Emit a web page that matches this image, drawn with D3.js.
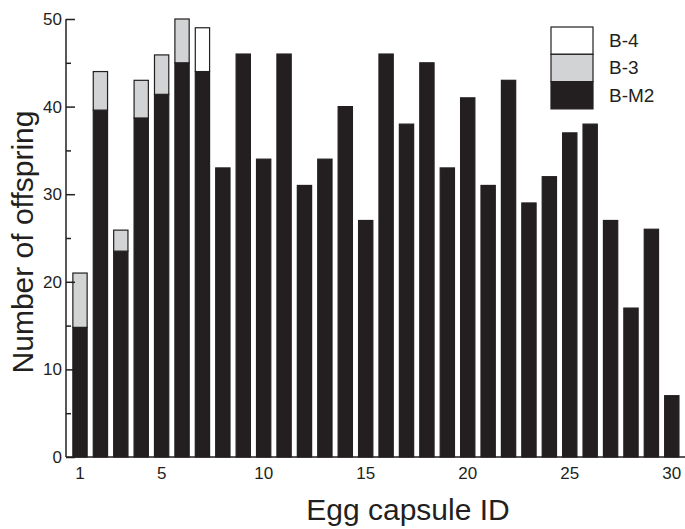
<!DOCTYPE html>
<html>
<head>
<meta charset="utf-8">
<script src="https://cdn.jsdelivr.net/npm/d3@7"></script>
<style>
  html, body { margin: 0; padding: 0; background: #fff; }
  svg text { font-family: "Liberation Sans", Arial, Helvetica, sans-serif; fill: #231f20; }
</style>
</head>
<body>
<svg id="chart" width="685" height="529"></svg>
<script>
// ---- data ----
const capsules = d3.range(1, 31);
const seriesNames = ["B-M2", "B-3", "B-4"];
const bM2 = [14.8, 39.6, 23.5, 38.7, 41.4, 45, 44, 33, 46, 34, 46, 31, 34, 40, 27, 46, 38, 45, 33, 41, 31, 43, 29, 32, 37, 38, 27, 17, 26, 7];
const b3  = [6.2, 4.4, 2.4, 4.3, 4.5, 5, 0, 0, 0, 0, 0, 0, 0, 0, 0, 0, 0, 0, 0, 0, 0, 0, 0, 0, 0, 0, 0, 0, 0, 0];
const b4  = [0, 0, 0, 0, 0, 0, 5, 0, 0, 0, 0, 0, 0, 0, 0, 0, 0, 0, 0, 0, 0, 0, 0, 0, 0, 0, 0, 0, 0, 0];
const xTickLabels = [1, 5, 10, 15, 20, 25, 30];
const yTickLabels = [0, 10, 20, 30, 40, 50];
const yMinorTicks = [5, 15, 25, 35, 45];

const colors = { "B-M2": "#231f20", "B-3": "#d1d3d4", "B-4": "#ffffff" };
const dark = "#231f20";

const svg = d3.select("#chart");
const axisX0 = 66, axisY0 = 457, plotTop = 19;

const x = d3.scaleBand().domain(capsules).range([69.8, 682]).paddingInner(0.3).paddingOuter(0.15);
const y = d3.scaleLinear().domain([0, 50]).range([axisY0, plotTop]);

const rows = capsules.map((c, i) => ({ id: c, "B-M2": bM2[i], "B-3": b3[i], "B-4": b4[i] }));
const stacked = d3.stack().keys(seriesNames)(rows);

// bars
svg.append("g").selectAll("g").data(stacked).join("g")
  .attr("fill", d => colors[d.key])
  .selectAll("rect").data(d => d.filter(p => p[1] - p[0] > 0)).join("rect")
  .attr("x", d => x(d.data.id))
  .attr("width", x.bandwidth())
  .attr("y", d => y(d[1]))
  .attr("height", d => y(d[0]) - y(d[1]))
  .attr("stroke", dark)
  .attr("stroke-width", 1.2);

// y axis
const yAxis = d3.axisLeft(y).tickValues(yTickLabels).tickSize(-9).tickPadding(14).tickFormat(d3.format("d"));
const gy = svg.append("g").attr("transform", `translate(${axisX0},0)`).call(yAxis);
gy.select(".domain").attr("stroke", dark).attr("stroke-width", 1.5).attr("d", `M0,${axisY0}V${plotTop}`);
gy.selectAll(".tick line").attr("stroke", dark).attr("stroke-width", 1.5);
gy.selectAll(".tick text").attr("font-size", 17).attr("font-family", "Liberation Sans, Arial, sans-serif").attr("fill", dark).attr("x", -4);
const yMinor = d3.axisLeft(y).tickValues(yMinorTicks).tickSize(-5).tickFormat("");
const gym = svg.append("g").attr("transform", `translate(${axisX0},0)`).call(yMinor);
gym.select(".domain").remove();
gym.selectAll(".tick line").attr("stroke", dark).attr("stroke-width", 1.5);

// x axis
const xAxis = d3.axisBottom(x).tickValues(xTickLabels).tickSize(0).tickPadding(10);
const gx = svg.append("g").attr("transform", `translate(0,${axisY0})`).call(xAxis);
gx.select(".domain").attr("stroke", dark).attr("stroke-width", 1.5).attr("d", `M${axisX0},0H685`);
gx.selectAll(".tick text").attr("font-size", 17).attr("font-family", "Liberation Sans, Arial, sans-serif").attr("fill", dark);

// axis titles
svg.append("text").attr("x", 408).attr("y", 520).attr("text-anchor", "middle")
  .attr("font-size", 30).text("Egg capsule ID");
svg.append("text").attr("transform", "translate(33,242) rotate(-90)").attr("text-anchor", "middle")
  .attr("font-size", 30).text("Number of offspring");

// legend
const legendOrder = ["B-4", "B-3", "B-M2"];
const lg = svg.append("g").attr("transform", "translate(551,27)");
legendOrder.forEach((k, i) => {
  lg.append("rect").attr("x", 0).attr("y", i * 27.3).attr("width", 42).attr("height", 27.3)
    .attr("fill", colors[k]).attr("stroke", dark).attr("stroke-width", 1.2);
  lg.append("text").attr("x", 58).attr("y", i * 27.3 + 20).attr("font-size", 19).text(k);
});
</script>
</body>
</html>
